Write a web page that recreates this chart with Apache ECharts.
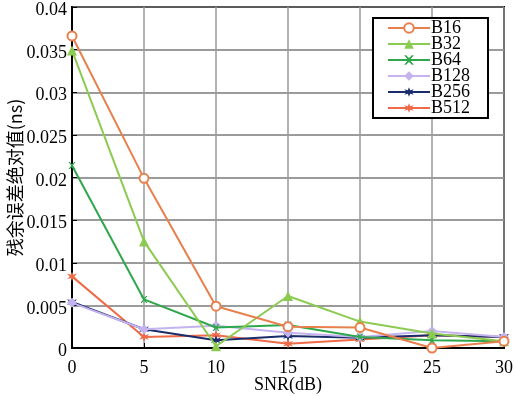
<!DOCTYPE html>
<html><head><meta charset="utf-8">
<script src="https://cdn.jsdelivr.net/npm/echarts@6/dist/echarts.min.js"></script>
<style>html,body{margin:0;padding:0;background:#fff}#c{width:516px;height:396px}</style>
</head><body><div id="c"></div>
<script>
const snr = [0, 5, 10, 15, 20, 25, 30];
const seriesNames = ['B16', 'B32', 'B64', 'B128', 'B256', 'B512'];
const B16 = [0.0366, 0.0199, 0.0049, 0.0025, 0.0024, 0.0000, 0.0008];
const B32 = [0.0349, 0.0125, 0.0002, 0.0061, 0.0031, 0.0017, 0.0008];
const B64 = [0.0214, 0.0057, 0.0024, 0.0027, 0.0013, 0.0009, 0.0008];
const B128 = [0.0053, 0.0022, 0.0026, 0.0018, 0.0013, 0.0020, 0.0013];
const B256 = [0.0054, 0.0022, 0.0009, 0.0014, 0.0012, 0.0015, 0.0013];
const B512 = [0.0084, 0.0013, 0.0015, 0.0005, 0.0010, 0.0015, 0.0013];
const yTicks = [0, 0.005, 0.01, 0.015, 0.02, 0.025, 0.03, 0.035, 0.04];

const values = [B16, B32, B64, B128, B256, B512];
const colors = ['#E8804E', '#8CCB52', '#2FA74C', '#C3B3EE', '#1B2C6A', '#EE6A48'];
const xPath = 'path://M0,0 L2,0 L5,3 L8,0 L10,0 L6,5 L10,10 L8,10 L5,7 L2,10 L0,10 L4,5 Z';
const starPath = 'path://M5,0 L6.2,3.3 L9.8,2.2 L7.3,5 L9.8,7.8 L6.2,6.7 L5,10 L3.8,6.7 L0.2,7.8 L2.7,5 L0.2,2.2 L3.8,3.3 Z';
const symbols = ['circle', 'triangle', xPath, 'diamond', starPath, starPath];
const sizes = [9, 10, 7, 10, 10, 10];
const fills = ['#fff', null, null, null, null, null];

const font = '"Liberation Serif", "Times New Roman", serif';
const series = seriesNames.map((n, i) => ({
  name: n, type: 'line',
  data: snr.map((x, j) => [x, values[i][j]]),
  symbol: symbols[i], symbolSize: sizes[i], showAllSymbol: true,
  lineStyle: {color: colors[i], width: 2},
  itemStyle: {color: fills[i] || colors[i], borderColor: colors[i], borderWidth: fills[i] ? 2 : 0},
  z: 10 - i
}));

const chart = echarts.init(document.getElementById('c'), null, {renderer: 'canvas'});
chart.setOption({
  animation: false,
  backgroundColor: '#fff',
  grid: {left: 72, right: 12, top: 7, bottom: 48, outerBoundsMode: 'none', containLabel: false,
    show: true, borderColor: '#000', borderWidth: 2, backgroundColor: 'transparent'},
  legend: {
    data: seriesNames, orient: 'vertical', left: 373, top: 18, width: 116,
    backgroundColor: '#fff', borderColor: '#000', borderWidth: 2,
    padding: [1, 18, 1, 14], itemGap: -2, itemWidth: 42, itemHeight: 12,
    textStyle: {fontFamily: font, fontSize: 18, color: '#000', padding: [0, 0, 0, -4]}
  },
  xAxis: {
    type: 'value', min: 0, max: 30, interval: 5,
    name: 'SNR(dB)', nameLocation: 'middle', nameGap: 28, nameMoveOverlap: false,
    nameTextStyle: {fontFamily: font, fontSize: 18, color: '#000'},
    axisLine: {lineStyle: {color: '#000', width: 2}},
    axisTick: {inside: true, length: 5, lineStyle: {color: '#000'}},
    axisLabel: {fontFamily: font, fontSize: 18, color: '#000', margin: 11},
    splitLine: {show: true, lineStyle: {color: '#9a9a9a', width: 1.5}}
  },
  yAxis: {
    type: 'value', min: 0, max: 0.04, interval: 0.005,
    name: '残余误差绝对值(ns)', nameLocation: 'middle', nameGap: 48, nameMoveOverlap: false,
    nameTextStyle: {fontFamily: '"Noto Sans CJK SC", ' + font, fontSize: 18, color: '#000'},
    axisLine: {lineStyle: {color: '#000', width: 2}},
    axisTick: {inside: true, length: 5, lineStyle: {color: '#000'}},
    axisLabel: {color: '#000', margin: 5,
      rich: {a: {fontFamily: font, fontSize: 18, color: '#000', padding: [7, 0, 0, 0]}},
      formatter: v => { const t = yTicks.find(k => Math.abs(k - v) < 1e-9); return '{a|' + String(t !== undefined ? t : v) + '}'; }},
    splitLine: {show: true, lineStyle: {color: '#7a7a7a', width: 1.5}}
  },
  series: series
});
</script></body></html>
